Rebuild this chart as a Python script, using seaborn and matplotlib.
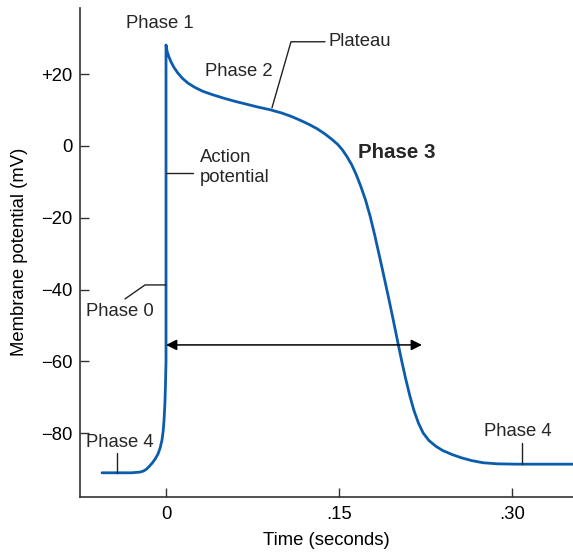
import matplotlib
matplotlib.use("Agg")
import matplotlib.pyplot as plt
import seaborn as sns
import pandas as pd

# ---- data ----
time_s = [-0.0555, -0.0300, -0.0225, -0.0195, -0.0170, -0.0145, -0.0120, -0.0095,
          -0.0070, -0.0050, -0.0035, -0.0025, -0.0017, -0.0010, -0.0005, 0.0000,
          0.0000, 0.0010, 0.0025, 0.0045, 0.0070, 0.0100, 0.0140, 0.0190, 0.0250,
          0.0320, 0.0400, 0.0500, 0.0600, 0.0700, 0.0800, 0.0900, 0.1000, 0.1080,
          0.1160, 0.1240, 0.1310, 0.1380, 0.1440, 0.1490, 0.1530, 0.1570, 0.1610,
          0.1650, 0.1690, 0.1730, 0.1770, 0.1810, 0.1850, 0.1890, 0.1930, 0.1970,
          0.2010, 0.2045, 0.2080, 0.2115, 0.2150, 0.2190, 0.2230, 0.2280, 0.2340,
          0.2400, 0.2480, 0.2560, 0.2650, 0.2750, 0.2870, 0.3043, 0.3530]
membrane_mv = [-91.0, -91.0, -90.8, -90.5, -90.0, -89.2, -88.3, -87.2,
               -85.8, -84.0, -81.9, -79.5, -76.3, -72.0, -67.0, -60.0,
               28.1, 26.3, 24.8, 23.3, 21.8, 20.4, 18.9, 17.5, 16.3,
               15.2, 14.3, 13.3, 12.4, 11.6, 10.8, 10.1, 9.2, 8.3,
               7.2, 6.0, 4.8, 3.3, 1.8, 0.4, -1.1, -3.0, -5.2,
               -8.0, -11.3, -15.0, -19.5, -24.8, -30.5, -36.3, -42.2, -48.3,
               -54.6, -60.0, -65.0, -69.6, -73.6, -77.2, -79.9, -82.0, -83.6,
               -84.8, -85.9, -86.8, -87.6, -88.2, -88.5, -88.6, -88.6]

x_ticks = [0, 0.15, 0.30]
x_tick_labels = ["0", ".15", ".30"]
y_ticks = [20, 0, -20, -40, -60, -80]
y_tick_labels = ["+20", "0", "\u221220", "\u221240", "\u221260", "\u221280"]

df = pd.DataFrame({"t": time_s, "v": membrane_mv})

sns.set_theme(style="white")
plt.rcParams["font.family"] = ["Liberation Sans", "DejaVu Sans"]
FS = 13.3
ink = "#222222"
blue = "#0b5cad"

fig = plt.figure(figsize=(5.73, 5.52), dpi=100)
ax = fig.add_axes([80 / 573, 1 - 496.5 / 552, 1 - 80 / 573, (496.5 - 8) / 552])

sns.lineplot(data=df, x="t", y="v", ax=ax, sort=False, estimator=None,
             color=blue, linewidth=2.0)

ax.set_xlim(-0.0746, 0.353)
ax.set_ylim(-97.6, 38.4)

for s in ["top", "right"]:
    ax.spines[s].set_visible(False)
for s in ["left", "bottom"]:
    ax.spines[s].set_color("#333333")
    ax.spines[s].set_linewidth(1.2)

ax.set_xticks(x_ticks)
ax.set_xticklabels(x_tick_labels)
ax.set_yticks(y_ticks)
ax.set_yticklabels(y_tick_labels)
ax.tick_params(axis="both", direction="in", length=6.5, width=1.0, color="#333333",
               labelsize=FS, labelcolor="black")
ax.tick_params(axis="y", pad=5.5)
ax.tick_params(axis="x", pad=7)
ax.tick_params(left=True, bottom=True)

ax.set_xlabel("Time (seconds)", fontsize=FS, labelpad=6, color="black")
ax.set_ylabel("Membrane potential (mV)", fontsize=FS, labelpad=9, color="black")

lw = 1.0
# Plateau
ax.plot([0.0919, 0.1084, 0.1379], [10.6, 29.0, 29.0], color=ink, lw=lw)
ax.text(0.1413, 29.0, "Plateau", fontsize=FS, ha="left", va="center")
ax.text(0.0633, 20.6, "Phase 2", fontsize=FS, ha="center", va="center")
ax.text(-0.0052, 34.0, "Phase 1", fontsize=FS, ha="center", va="center")
# Action potential
ax.plot([0.0, 0.0234], [-7.5, -7.5], color=ink, lw=lw)
ax.text(0.0295, -6.1, "Action\npotential", fontsize=FS, ha="left", va="center",
        linespacing=1.25)
# Phase 0
ax.plot([0.0, -0.0182, -0.0356], [-38.7, -38.7, -42.6], color=ink, lw=lw)
ax.text(-0.0399, -46.0, "Phase 0", fontsize=FS, ha="center", va="center")
# Phase 4 left
ax.plot([-0.0425, -0.0425], [-85.5, -91.0], color=ink, lw=lw)
ax.text(-0.0399, -82.7, "Phase 4", fontsize=FS, ha="center", va="center")
# Phase 4 right
ax.plot([0.3087, 0.3087], [-82.7, -88.5], color=ink, lw=lw)
ax.text(0.3052, -79.4, "Phase 4", fontsize=FS, ha="center", va="center")
# Phase 3
ax.text(0.2003, -1.7, "Phase 3", fontsize=FS + 1.5, ha="center", va="center",
        fontweight="bold")
# Double arrow
ax.annotate("", xy=(0.0, -55.4), xytext=(0.222, -55.4),
            arrowprops=dict(arrowstyle="<|-|>", color="black", lw=1.1,
                            mutation_scale=16, shrinkA=0, shrinkB=0))

fig.savefig("out.png", dpi=100)
